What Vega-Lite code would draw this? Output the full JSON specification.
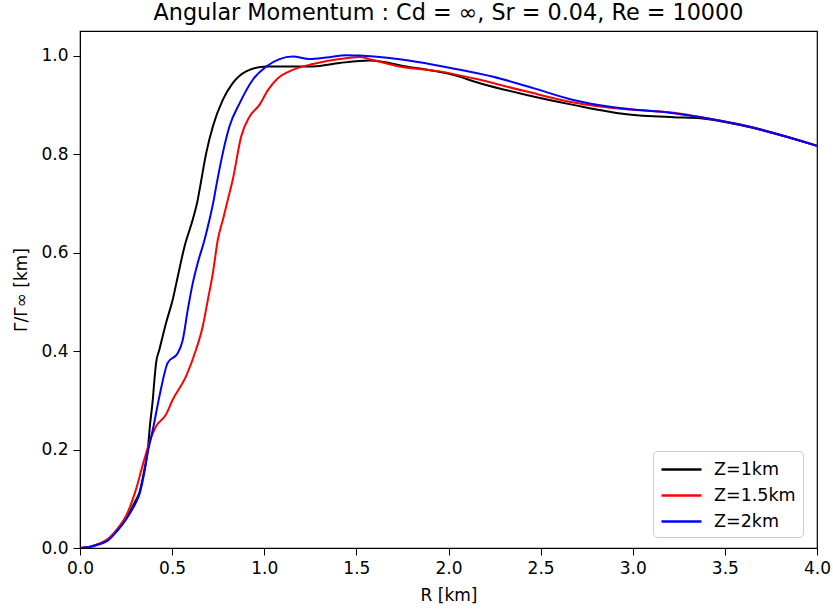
{
  "$schema": "https://vega.github.io/schema/vega-lite/v6.json",
  "width": 737,
  "height": 517,
  "autosize": {"type": "none"},
  "padding": {"left": 80, "top": 31, "right": 16, "bottom": 65},
  "background": "white",
  "config": {
    "font": "DejaVu Sans",
    "view": {"stroke": "black", "strokeWidth": 1.2},
    "axis": {"grid": false, "domainColor": "black", "tickColor": "black", "labelColor": "black", "titleColor": "black", "labelFontSize": 17, "titleFontSize": 17, "titleFontWeight": "normal", "tickSize": 7, "labelPadding": 5, "labelFlush": false, "labelOverlap": false}
  },
  "title": {"text": "Angular Momentum : Cd = ∞, Sr = 0.04, Re = 10000", "fontSize": 22.3, "fontWeight": "normal", "color": "black", "offset": 7, "font": "DejaVu Sans"},
  "data": {"values": [
    {"r": 0, "g": 0, "z": "Z=1km"},
    {"r": 0.05, "g": 0.002, "z": "Z=1km"},
    {"r": 0.1, "g": 0.008, "z": "Z=1km"},
    {"r": 0.15, "g": 0.016, "z": "Z=1km"},
    {"r": 0.2, "g": 0.035, "z": "Z=1km"},
    {"r": 0.25, "g": 0.06, "z": "Z=1km"},
    {"r": 0.3, "g": 0.095, "z": "Z=1km"},
    {"r": 0.322, "g": 0.112, "z": "Z=1km"},
    {"r": 0.35, "g": 0.16, "z": "Z=1km"},
    {"r": 0.368, "g": 0.2, "z": "Z=1km"},
    {"r": 0.38, "g": 0.25, "z": "Z=1km"},
    {"r": 0.395, "g": 0.301, "z": "Z=1km"},
    {"r": 0.404, "g": 0.342, "z": "Z=1km"},
    {"r": 0.413, "g": 0.376, "z": "Z=1km"},
    {"r": 0.431, "g": 0.403, "z": "Z=1km"},
    {"r": 0.467, "g": 0.457, "z": "Z=1km"},
    {"r": 0.503, "g": 0.504, "z": "Z=1km"},
    {"r": 0.531, "g": 0.552, "z": "Z=1km"},
    {"r": 0.567, "g": 0.612, "z": "Z=1km"},
    {"r": 0.612, "g": 0.667, "z": "Z=1km"},
    {"r": 0.639, "g": 0.707, "z": "Z=1km"},
    {"r": 0.652, "g": 0.734, "z": "Z=1km"},
    {"r": 0.685, "g": 0.802, "z": "Z=1km"},
    {"r": 0.721, "g": 0.856, "z": "Z=1km"},
    {"r": 0.775, "g": 0.91, "z": "Z=1km"},
    {"r": 0.829, "g": 0.944, "z": "Z=1km"},
    {"r": 0.902, "g": 0.968, "z": "Z=1km"},
    {"r": 1.011, "g": 0.978, "z": "Z=1km"},
    {"r": 1.264, "g": 0.978, "z": "Z=1km"},
    {"r": 1.409, "g": 0.985, "z": "Z=1km"},
    {"r": 1.572, "g": 0.99, "z": "Z=1km"},
    {"r": 1.772, "g": 0.978, "z": "Z=1km"},
    {"r": 2.025, "g": 0.961, "z": "Z=1km"},
    {"r": 2.17, "g": 0.944, "z": "Z=1km"},
    {"r": 2.424, "g": 0.92, "z": "Z=1km"},
    {"r": 2.677, "g": 0.9, "z": "Z=1km"},
    {"r": 2.967, "g": 0.881, "z": "Z=1km"},
    {"r": 3.221, "g": 0.875, "z": "Z=1km"},
    {"r": 3.366, "g": 0.873, "z": "Z=1km"},
    {"r": 3.583, "g": 0.859, "z": "Z=1km"},
    {"r": 4.0, "g": 0.817, "z": "Z=1km"},
    {"r": 0, "g": 0, "z": "Z=1.5km"},
    {"r": 0.05, "g": 0.002, "z": "Z=1.5km"},
    {"r": 0.1, "g": 0.008, "z": "Z=1.5km"},
    {"r": 0.15, "g": 0.018, "z": "Z=1.5km"},
    {"r": 0.2, "g": 0.038, "z": "Z=1.5km"},
    {"r": 0.25, "g": 0.065, "z": "Z=1.5km"},
    {"r": 0.304, "g": 0.119, "z": "Z=1.5km"},
    {"r": 0.349, "g": 0.18, "z": "Z=1.5km"},
    {"r": 0.386, "g": 0.224, "z": "Z=1.5km"},
    {"r": 0.413, "g": 0.247, "z": "Z=1.5km"},
    {"r": 0.467, "g": 0.271, "z": "Z=1.5km"},
    {"r": 0.503, "g": 0.301, "z": "Z=1.5km"},
    {"r": 0.576, "g": 0.349, "z": "Z=1.5km"},
    {"r": 0.63, "g": 0.403, "z": "Z=1.5km"},
    {"r": 0.666, "g": 0.45, "z": "Z=1.5km"},
    {"r": 0.694, "g": 0.504, "z": "Z=1.5km"},
    {"r": 0.721, "g": 0.558, "z": "Z=1.5km"},
    {"r": 0.748, "g": 0.626, "z": "Z=1.5km"},
    {"r": 0.778, "g": 0.67, "z": "Z=1.5km"},
    {"r": 0.802, "g": 0.707, "z": "Z=1.5km"},
    {"r": 0.829, "g": 0.748, "z": "Z=1.5km"},
    {"r": 0.875, "g": 0.836, "z": "Z=1.5km"},
    {"r": 0.92, "g": 0.876, "z": "Z=1.5km"},
    {"r": 0.974, "g": 0.9, "z": "Z=1.5km"},
    {"r": 1.02, "g": 0.93, "z": "Z=1.5km"},
    {"r": 1.074, "g": 0.954, "z": "Z=1.5km"},
    {"r": 1.155, "g": 0.971, "z": "Z=1.5km"},
    {"r": 1.264, "g": 0.983, "z": "Z=1.5km"},
    {"r": 1.409, "g": 0.993, "z": "Z=1.5km"},
    {"r": 1.518, "g": 0.997, "z": "Z=1.5km"},
    {"r": 1.59, "g": 0.991, "z": "Z=1.5km"},
    {"r": 1.735, "g": 0.978, "z": "Z=1.5km"},
    {"r": 1.953, "g": 0.968, "z": "Z=1.5km"},
    {"r": 2.134, "g": 0.954, "z": "Z=1.5km"},
    {"r": 2.424, "g": 0.927, "z": "Z=1.5km"},
    {"r": 2.677, "g": 0.905, "z": "Z=1.5km"},
    {"r": 2.967, "g": 0.891, "z": "Z=1.5km"},
    {"r": 3.221, "g": 0.884, "z": "Z=1.5km"},
    {"r": 3.402, "g": 0.873, "z": "Z=1.5km"},
    {"r": 3.583, "g": 0.86, "z": "Z=1.5km"},
    {"r": 4.0, "g": 0.817, "z": "Z=1.5km"},
    {"r": 0, "g": 0, "z": "Z=2km"},
    {"r": 0.05, "g": 0.002, "z": "Z=2km"},
    {"r": 0.1, "g": 0.007, "z": "Z=2km"},
    {"r": 0.15, "g": 0.015, "z": "Z=2km"},
    {"r": 0.2, "g": 0.034, "z": "Z=2km"},
    {"r": 0.25, "g": 0.058, "z": "Z=2km"},
    {"r": 0.3, "g": 0.09, "z": "Z=2km"},
    {"r": 0.322, "g": 0.108, "z": "Z=2km"},
    {"r": 0.35, "g": 0.155, "z": "Z=2km"},
    {"r": 0.368, "g": 0.195, "z": "Z=2km"},
    {"r": 0.38, "g": 0.215, "z": "Z=2km"},
    {"r": 0.395, "g": 0.24, "z": "Z=2km"},
    {"r": 0.431, "g": 0.308, "z": "Z=2km"},
    {"r": 0.476, "g": 0.376, "z": "Z=2km"},
    {"r": 0.531, "g": 0.396, "z": "Z=2km"},
    {"r": 0.558, "g": 0.423, "z": "Z=2km"},
    {"r": 0.585, "g": 0.484, "z": "Z=2km"},
    {"r": 0.612, "g": 0.538, "z": "Z=2km"},
    {"r": 0.639, "g": 0.579, "z": "Z=2km"},
    {"r": 0.676, "g": 0.626, "z": "Z=2km"},
    {"r": 0.703, "g": 0.667, "z": "Z=2km"},
    {"r": 0.726, "g": 0.707, "z": "Z=2km"},
    {"r": 0.739, "g": 0.734, "z": "Z=2km"},
    {"r": 0.775, "g": 0.802, "z": "Z=2km"},
    {"r": 0.811, "g": 0.856, "z": "Z=2km"},
    {"r": 0.866, "g": 0.903, "z": "Z=2km"},
    {"r": 0.938, "g": 0.951, "z": "Z=2km"},
    {"r": 1.011, "g": 0.978, "z": "Z=2km"},
    {"r": 1.083, "g": 0.993, "z": "Z=2km"},
    {"r": 1.155, "g": 0.998, "z": "Z=2km"},
    {"r": 1.246, "g": 0.993, "z": "Z=2km"},
    {"r": 1.337, "g": 0.996, "z": "Z=2km"},
    {"r": 1.446, "g": 1.001, "z": "Z=2km"},
    {"r": 1.518, "g": 1.0, "z": "Z=2km"},
    {"r": 1.681, "g": 0.995, "z": "Z=2km"},
    {"r": 2.025, "g": 0.974, "z": "Z=2km"},
    {"r": 2.243, "g": 0.957, "z": "Z=2km"},
    {"r": 2.46, "g": 0.934, "z": "Z=2km"},
    {"r": 2.677, "g": 0.91, "z": "Z=2km"},
    {"r": 2.895, "g": 0.895, "z": "Z=2km"},
    {"r": 3.221, "g": 0.883, "z": "Z=2km"},
    {"r": 3.402, "g": 0.873, "z": "Z=2km"},
    {"r": 3.583, "g": 0.86, "z": "Z=2km"},
    {"r": 4.0, "g": 0.817, "z": "Z=2km"}
  ]},
  "mark": {"type": "line", "strokeWidth": 2, "interpolate": "monotone", "clip": true},
  "encoding": {
    "x": {"field": "r", "type": "quantitative", "scale": {"domain": [0, 4], "nice": false, "zero": false},
      "axis": {"title": "R [km]", "values": [0, 0.5, 1, 1.5, 2, 2.5, 3, 3.5, 4], "format": ".1f", "titlePadding": 11}},
    "y": {"field": "g", "type": "quantitative", "scale": {"domain": [0, 1.05], "nice": false},
      "axis": {"title": "Γ/Γ∞ [km]", "values": [0, 0.2, 0.4, 0.6, 0.8, 1.0], "format": ".1f", "titlePadding": 10}},
    "color": {"field": "z", "type": "nominal",
      "scale": {"domain": ["Z=1km", "Z=1.5km", "Z=2km"], "range": ["#000000", "#ff0000", "#0000ff"]},
      "legend": {"title": null, "orient": "none", "legendX": 573, "legendY": 420, "symbolType": "M-1,0H3", "symbolSize": 400, "symbolStrokeWidth": 2.5, "labelFontSize": 17.5, "labelColor": "black", "strokeColor": "#cccccc", "fillColor": "white", "cornerRadius": 4, "padding": 7, "rowPadding": 6, "labelOffset": 31}}
  }
}
